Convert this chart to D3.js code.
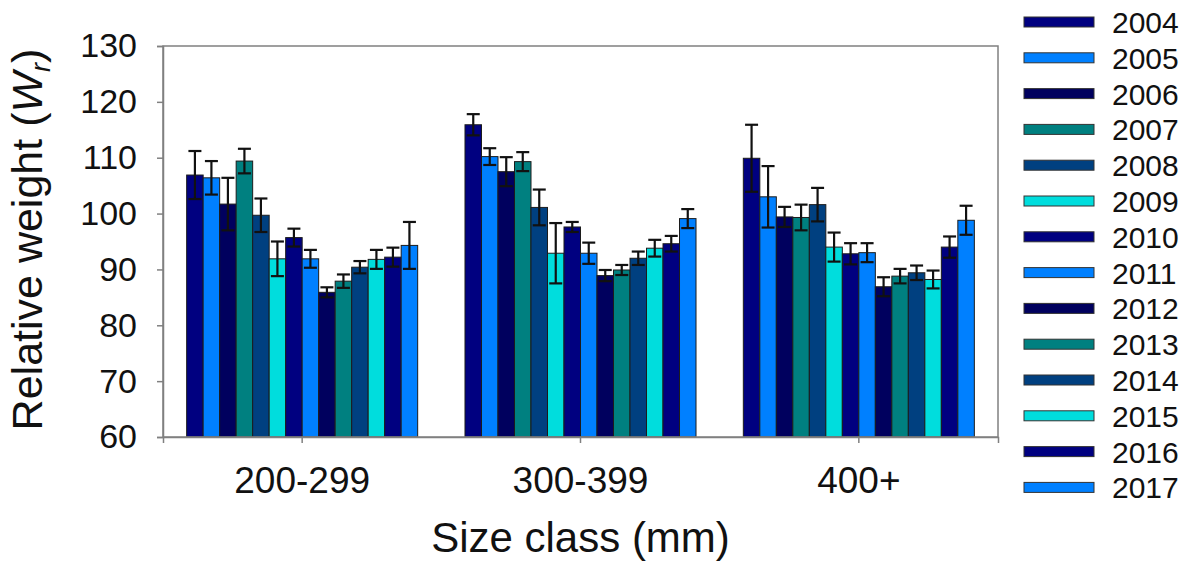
<!DOCTYPE html>
<html>
<head>
<meta charset="utf-8">
<script src="https://cdn.jsdelivr.net/npm/d3@7"></script>
<style>
  html, body { margin: 0; padding: 0; background: #fff; }
  svg { display: block; font-family: "Liberation Sans", Arial, sans-serif; }
</style>
</head>
<body>
<svg id="chart" width="1197" height="563"></svg>
<script>
const sizeClasses = ["200-299", "300-399", "400+"];
const years = ["2004", "2005", "2006", "2007", "2008", "2009", "2010",
               "2011", "2012", "2013", "2014", "2015", "2016", "2017"];

// mean relative weight (Wr) per year, one array per size class
const wr200 = [106.9, 106.4, 101.7, 109.4, 99.7, 91.9, 95.7, 91.9, 85.9, 87.9, 90.4, 91.8, 92.2, 94.3];
const wr300 = [115.9, 110.2, 107.5, 109.3, 101.1, 92.9, 97.6, 92.9, 88.9, 89.9, 92.0, 93.8, 94.6, 99.1];
const wr400 = [109.9, 103.0, 99.4, 99.3, 101.6, 94.0, 92.8, 93.0, 86.9, 88.8, 89.4, 88.2, 94.0, 98.8];

// error bar half-widths
const err200 = [4.3, 3.0, 4.7, 2.2, 3.0, 3.1, 1.6, 1.6, 0.9, 1.2, 1.1, 1.7, 1.7, 4.2];
const err300 = [1.9, 1.5, 2.6, 1.7, 3.2, 5.4, 0.9, 1.9, 1.0, 0.9, 1.2, 1.5, 1.4, 1.7];
const err400 = [6.0, 5.5, 1.8, 2.3, 3.0, 2.6, 1.9, 1.7, 1.7, 1.3, 1.3, 1.6, 1.9, 2.6];

const yTicks = [60, 70, 80, 90, 100, 110, 120, 130];

const palette = ["#000080", "#0080ff", "#00005e", "#008080", "#004080", "#00dddd"];

const wrBySize = [wr200, wr300, wr400];
const errBySize = [err200, err300, err400];

const dados = [];
sizeClasses.forEach((sc, i) => {
  years.forEach((yr, j) => {
    dados.push({ classe: sc, ano: yr, wr: wrBySize[i][j], err: errBySize[i][j] });
  });
});

const margin = { top: 46, right: 199, bottom: 126, left: 163 };
const W = 1197, H = 563;
const plotW = W - margin.left - margin.right;
const plotH = H - margin.top - margin.bottom;

const svg = d3.select("#chart");
const g = svg.append("g").attr("transform", `translate(${margin.left},${margin.top})`);

const x0 = d3.scaleBand().domain(sizeClasses).range([0, plotW]).paddingInner(0.17).paddingOuter(0.085);
const x1 = d3.scaleBand().domain(years).range([0, x0.bandwidth()]);
const y = d3.scaleLinear().domain([60, 130]).range([plotH, 0]);
const cor = d3.scaleOrdinal().domain(years).range(years.map((d, i) => palette[i % palette.length]));

// bars
g.selectAll("rect.barra")
  .data(dados)
  .join("rect")
  .attr("class", "barra")
  .attr("x", (d) => x0(d.classe) + x1(d.ano))
  .attr("y", (d) => y(d.wr))
  .attr("width", x1.bandwidth())
  .attr("height", (d) => y(60) - y(d.wr))
  .attr("fill", (d) => cor(d.ano))
  .attr("stroke", "#1c1c1c")
  .attr("stroke-width", 1);

// error bars
const erro = g.selectAll("g.erro")
  .data(dados)
  .join("g")
  .attr("class", "erro")
  .attr("transform", (d) => `translate(${x0(d.classe) + x1(d.ano) + x1.bandwidth() / 2},0)`)
  .attr("stroke", "#111")
  .attr("stroke-width", 2.2);

erro.append("line").attr("y1", (d) => y(d.wr - d.err)).attr("y2", (d) => y(d.wr + d.err));
erro.append("line").attr("x1", -6.5).attr("x2", 6.5).attr("y1", (d) => y(d.wr + d.err)).attr("y2", (d) => y(d.wr + d.err));
erro.append("line").attr("x1", -6.5).attr("x2", 6.5).attr("y1", (d) => y(d.wr - d.err)).attr("y2", (d) => y(d.wr - d.err));

// frame
g.append("rect")
  .attr("width", plotW)
  .attr("height", plotH)
  .attr("fill", "none")
  .attr("stroke", "#808080")
  .attr("stroke-width", 1.5);

// y axis
g.append("g")
  .call(d3.axisLeft(y).tickValues(yTicks).tickSize(6).tickPadding(20))
  .call((sel) => sel.select(".domain").attr("stroke", "#808080").attr("stroke-width", 1.5))
  .call((sel) => sel.selectAll("line").attr("stroke", "#808080").attr("stroke-width", 1.5))
  .call((sel) => sel.selectAll("text").attr("fill", "#111").attr("font-size", "34px")
    .attr("font-family", "'Liberation Sans', Arial, sans-serif"));

// x axis
g.append("g")
  .attr("transform", `translate(0,${plotH})`)
  .call(d3.axisBottom(x0).tickSize(6).tickPadding(24))
  .call((sel) => sel.select(".domain").attr("stroke", "#808080").attr("stroke-width", 1.5))
  .call((sel) => sel.selectAll("line").attr("stroke", "#808080").attr("stroke-width", 1.5))
  .call((sel) => sel.selectAll("text").attr("fill", "#111").attr("font-size", "37px")
    .attr("font-family", "'Liberation Sans', Arial, sans-serif"));

// axis titles
svg.append("text")
  .attr("x", margin.left + plotW / 2)
  .attr("y", 552)
  .attr("text-anchor", "middle")
  .attr("font-size", "42px")
  .attr("fill", "#111")
  .text("Size class (mm)");

const yTitulo = svg.append("text")
  .attr("transform", `translate(42,${margin.top + plotH / 2 - 2}) rotate(-90)`)
  .attr("text-anchor", "middle")
  .attr("font-size", "43px")
  .attr("fill", "#111");
yTitulo.append("tspan").text("Relative weight (");
yTitulo.append("tspan").attr("font-style", "italic").text("W");
yTitulo.append("tspan").attr("font-style", "italic").attr("font-size", "27px").attr("dy", 8).text("r");
yTitulo.append("tspan").attr("dy", -8).text(")");

// legend
const legenda = svg.append("g").attr("transform", "translate(1024,22)");
const item = legenda.selectAll("g")
  .data(years)
  .join("g")
  .attr("transform", (d, i) => `translate(0,${i * 35.8})`);

item.append("rect")
  .attr("x", 0)
  .attr("y", -5)
  .attr("width", 70)
  .attr("height", 10)
  .attr("fill", (d) => cor(d))
  .attr("stroke", "#333")
  .attr("stroke-width", 1);

item.append("text")
  .attr("x", 88)
  .attr("y", 11)
  .attr("font-size", "30px")
  .attr("fill", "#111")
  .text((d) => d);
</script>
</body>
</html>
